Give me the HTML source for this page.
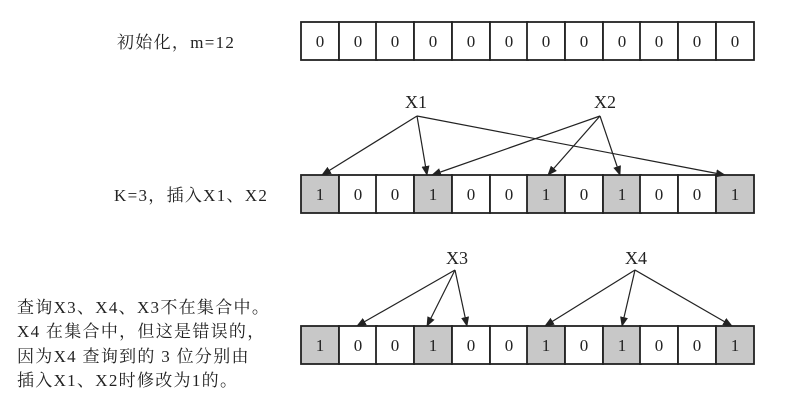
<!DOCTYPE html>
<html><head><meta charset="utf-8"><style>
body{margin:0;background:#fff;}
</style></head><body>
<svg width="790" height="415" xmlns="http://www.w3.org/2000/svg" font-family="Liberation Serif, Noto Serif CJK SC, serif">
<defs><marker id="a" markerWidth="10" markerHeight="8" refX="9" refY="4" orient="auto" markerUnits="userSpaceOnUse"><path d="M0,0 L10,4 L0,8 z" fill="#222"/></marker>
<g id="w"><rect width="38" height="38" fill="#fff" stroke="#222" stroke-width="1.8"/><text x="19" y="25" font-size="17" text-anchor="middle" fill="#222">0</text></g>
<g id="s"><rect width="38" height="38" fill="#c8c8c8" stroke="#222" stroke-width="1.8"/><text x="19" y="25" font-size="17" text-anchor="middle" fill="#222">1</text></g>
</defs>
<g font-size="17" fill="#222" letter-spacing="1.3">
<text x="117" y="48">初始化，m=12</text>
<text x="114" y="201">K=3，插入X1、X2</text>
<text x="17" y="313">查询X3、X4、X3不在集合中。</text>
<text x="17" y="337">X4 在集合中，但这是错误的，</text>
<text x="17" y="362">因为X4 查询到的 3 位分别由</text>
<text x="17" y="386">插入X1、X2时修改为1的。</text>
</g>
<g font-size="18" fill="#222">
<text x="405" y="108">X1</text>
<text x="594" y="108">X2</text>
<text x="446" y="264">X3</text>
<text x="625" y="264">X4</text>
</g>
<g transform="translate(0,22)">
<use href="#w" x="301"/><use href="#w" x="339"/><use href="#w" x="376"/><use href="#w" x="414"/><use href="#w" x="452"/><use href="#w" x="490"/><use href="#w" x="527"/><use href="#w" x="565"/><use href="#w" x="603"/><use href="#w" x="640"/><use href="#w" x="678"/><use href="#w" x="716"/>
</g>
<g transform="translate(0,175)">
<use href="#s" x="301"/><use href="#w" x="339"/><use href="#w" x="376"/><use href="#s" x="414"/><use href="#w" x="452"/><use href="#w" x="490"/><use href="#s" x="527"/><use href="#w" x="565"/><use href="#s" x="603"/><use href="#w" x="640"/><use href="#w" x="678"/><use href="#s" x="716"/>
</g>
<g transform="translate(0,326)">
<use href="#s" x="301"/><use href="#w" x="339"/><use href="#w" x="376"/><use href="#s" x="414"/><use href="#w" x="452"/><use href="#w" x="490"/><use href="#s" x="527"/><use href="#w" x="565"/><use href="#s" x="603"/><use href="#w" x="640"/><use href="#w" x="678"/><use href="#s" x="716"/>
</g>
<g stroke="#222" stroke-width="1.2" fill="none" marker-end="url(#a)">
<line x1="417" y1="116" x2="322" y2="175"/>
<line x1="417" y1="116" x2="427" y2="175"/>
<line x1="417" y1="116" x2="725" y2="175"/>
<line x1="600" y1="116" x2="432" y2="175"/>
<line x1="600" y1="116" x2="548" y2="175"/>
<line x1="600" y1="116" x2="620" y2="175"/>
<line x1="455" y1="270" x2="357" y2="326"/>
<line x1="455" y1="270" x2="427" y2="326"/>
<line x1="455" y1="270" x2="467" y2="326"/>
<line x1="635" y1="270" x2="545" y2="326"/>
<line x1="635" y1="270" x2="622" y2="326"/>
<line x1="635" y1="270" x2="732" y2="326"/>
</g>
</svg>
</body></html>
